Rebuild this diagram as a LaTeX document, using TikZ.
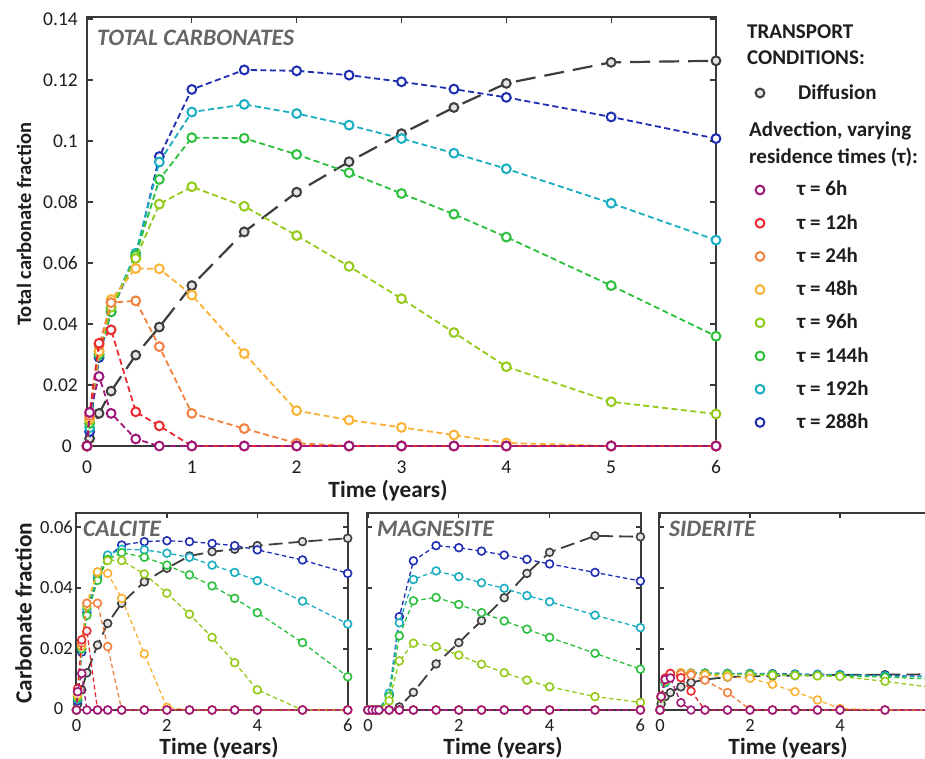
\documentclass[tikz,border=0pt]{standalone}
\usepackage{fontspec}
\setmainfont{Carlito}
\definecolor{cpur}{RGB}{158,24,122}
\definecolor{cred}{RGB}{234,42,46}
\definecolor{cora}{RGB}{242,128,62}
\definecolor{cyel}{RGB}{250,178,52}
\definecolor{cygr}{RGB}{148,202,24}
\definecolor{cgrn}{RGB}{44,192,62}
\definecolor{ccya}{RGB}{24,174,192}
\definecolor{cblu}{RGB}{30,46,176}
\definecolor{cgry}{RGB}{62,62,62}
\definecolor{gfill}{RGB}{228,228,228}
\definecolor{axc}{RGB}{56,56,56}
\definecolor{ttl}{RGB}{102,102,102}
\definecolor{txt}{RGB}{30,30,30}
\makeatletter
\def\buildpts#1#2{\def\zippts{}\edef\tmpT{#1,}\edef\tmpV{#2,}\zip@loop}
\def\zip@loop{\ifx\tmpT\@empty\else
  \expandafter\zip@splitT\tmpT\@nil
  \expandafter\zip@splitV\tmpV\@nil
  \edef\zippts{\zippts(\headT,\headV)}%
  \expandafter\zip@loop\fi}
\def\zip@splitT#1,#2\@nil{\def\headT{#1}\def\tmpT{#2}}
\def\zip@splitV#1,#2\@nil{\def\headV{#1}\def\tmpV{#2}}
\makeatother
\newcommand\plotser[3]{\buildpts{#2}{#3}\begingroup\edef\x{\endgroup\noexpand\draw[#1] plot coordinates {\zippts};}\x}
\def\TT{0,0.025,0.115,0.23,0.465,0.69,1,1.5,2,2.5,3,3.5,4,5,6}
\def\TM{0,0.09,0.17,0.24,0.465,0.69,1,1.5,2,2.5,3,3.5,4,5,6}
\def\ZZ{0,0,0,0,0,0,0,0,0,0,0,0,0,0,0}
\newcommand\tkfont{\fontsize{19.5}{20}\selectfont}
\newcommand\btkfont{\fontsize{18.5}{19}\selectfont}
\tikzset{
  ax/.style={draw=axc,line width=1.2pt},
  tk/.style={inner sep=0pt,text=txt,font=\tkfont},
  btk/.style={inner sep=0pt,text=txt,font=\btkfont},
  lab/.style={inner sep=0pt,text=txt,font=\fontsize{23.3}{24}\selectfont\bfseries},
  ttlst/.style={inner sep=0pt,text=ttl,font=\fontsize{23.6}{24}\selectfont\bfseries\itshape,anchor=base west},
  lg/.style={inner sep=0pt,text=txt,font=\fontsize{21}{22}\selectfont\bfseries,anchor=base west},
  ser/.style={dash pattern=on 6pt off 3.5pt,line width=1.8pt,mark=*,mark size=4.4pt,mark options={solid,fill=white,line width=2pt}},
  gser/.style={cgry,dash pattern=on 20pt off 9pt,line width=2.2pt,mark=*,mark size=4.4pt,mark options={solid,fill=gfill,line width=2pt}},
  sser/.style={dash pattern=on 4.5pt off 3pt,line width=1.3pt,mark=*,mark size=3.9pt,mark options={solid,fill=white,line width=1.6pt}},
  sgser/.style={cgry,dash pattern=on 14pt off 6pt,line width=1.8pt,mark=*,mark size=3.9pt,mark options={solid,fill=gfill,line width=1.6pt}},
}
\begin{document}
\begin{tikzpicture}[x=1pt,y=-1pt]
\useasboundingbox[fill=white] (0,0) rectangle (925,759);
%% ---------------- main axes
\draw[ax] (87,17) rectangle (716,446);
\foreach \i in {0,...,6}{
  \draw[ax] ({87+104.83*\i},446) -- ++(0,-6);
  \draw[ax] ({87+104.83*\i},17) -- ++(0,6);
  \node[tk,anchor=base] at ({87+104.83*\i},473) {\i};
}
\foreach \v/\l in {0.02/0.02,0.04/0.04,0.06/0.06,0.08/0.08,0.1/0.1,0.12/0.12,0.14/0.14}{
  \draw[ax] (87,{446-3050*\v}) -- ++(6,0);
  \draw[ax] (716,{446-3050*\v}) -- ++(-6,0);
  \node[tk,anchor=east] at (78,{446-3050*\v}) {\l};
}
\node[tk,anchor=east] at (72,446) {0};
\node[lab,anchor=base] at (388,497) {Time (years)};
\node[lab,anchor=base,rotate=90,font=\fontsize{20.5}{21}\selectfont\bfseries] at (31,224) {Total carbonate fraction};
\node[ttlst] at (97,45.7) {TOTAL CARBONATES};
\begin{scope}[shift={(87,446)},x=104.83pt,y=3050pt]
\plotser{gser}{\TT}{0,0.0025,0.0107,0.018,0.0298,0.039,0.0526,0.0702,0.0832,0.0932,0.1024,0.111,0.1189,0.1258,0.1263}
\plotser{ser,cblu}{\TT}{0,0.0047,0.029,0.044,0.062,0.0949,0.1169,0.1233,0.1230,0.1216,0.1194,0.117,0.1143,0.1079,0.1008}
\plotser{ser,ccya}{\TT}{0,0.006,0.030,0.045,0.0632,0.0931,0.1095,0.112,0.109,0.1052,0.1008,0.096,0.0909,0.0796,0.0675}
\plotser{ser,cgrn}{\TT}{0,0.0074,0.030,0.044,0.0625,0.0874,0.1011,0.1009,0.0956,0.0896,0.0828,0.076,0.0685,0.0526,0.036}
\plotser{ser,cygr}{\TT}{0,0.0085,0.031,0.0455,0.0615,0.0793,0.085,0.0786,0.069,0.0589,0.0483,0.0372,0.026,0.0145,0.0105}
\plotser{ser,cyel}{\TT}{0,0.009,0.031,0.048,0.0582,0.0581,0.0495,0.0303,0.0116,0.0085,0.0061,0.0036,0.001,0,0}
\plotser{ser,cora}{\TT}{0,0.010,0.033,0.047,0.0476,0.0326,0.0107,0.0057,0.0009,0,0,0,0,0,0}
\plotser{ser,cred}{\TT}{0,0.011,0.0337,0.0381,0.0112,0.0066,0,0,0,0,0,0,0,0,0}
\plotser{ser,cpur}{\TT}{0,0.011,0.0228,0.0107,0.0023,0,0,0,0,0,0,0,0,0,0}
\end{scope}
%% ---------------- legend
\node[lg] at (747,38.3) {TRANSPORT};
\node[lg] at (747,65) {CONDITIONS:};
\draw[cgry,fill=gfill,line width=2pt] (760,93) circle (4.4pt);
\node[lg] at (798,99.3) {Diffusion};
\node[lg] at (749,136.7) {Advection, varying};
\node[lg] at (749,163.3) {residence times (τ):};
\foreach \c/\l [count=\i from 0] in {cpur/6h,cred/12h,cora/24h,cyel/48h,cygr/96h,cgrn/144h,ccya/192h,cblu/288h}{
  \draw[\c,fill=white,line width=2pt] (760,{190+33.2*\i}) circle (4.4pt);
  \node[lg] at (797,{196+33.2*\i}) {τ = \l};
}
%% ---------------- calcite
\draw[ax] (76,513) rectangle (348,710);
\foreach \i in {0,2,4,6}{
  \draw[ax] ({76.5+45.2*\i},710) -- ++(0,-5);
  \draw[ax] ({76.5+45.2*\i},513) -- ++(0,5);
  \node[btk,anchor=base] at ({76.5+45.2*\i},731) {\i};
}
\foreach \v/\l in {0.02/0.02,0.04/0.04,0.06/0.06}{
  \draw[ax] (76,{710-3050*\v}) -- ++(5,0);
  \draw[ax] (348,{710-3050*\v}) -- ++(-5,0);
  \node[btk,anchor=east] at (73,{710-3050*\v}) {\l};
}
\node[btk,anchor=east] at (63.5,709) {0};
\node[lab,anchor=base,rotate=90] at (31.5,613) {Carbonate fraction};
\node[lab,anchor=base] at (219,754) {Time (years)};
\node[ttlst] at (83,536.7) {CALCITE};
\begin{scope}[shift={(76.5,710)},x=45.2pt,y=3050pt]
\plotser{sgser}{\TT}{0,0.002,0.0066,0.0122,0.0213,0.0284,0.035,0.042,0.0465,0.0505,0.0519,0.0527,0.0539,0.0552,0.0563}
\plotser{sser,cblu}{\TT}{0,0.003,0.019,0.032,0.043,0.050,0.0541,0.0552,0.0555,0.0552,0.0546,0.0539,0.0525,0.0492,0.0448}
\plotser{sser,ccya}{\TT}{0,0.0035,0.020,0.033,0.044,0.0508,0.0527,0.0525,0.0514,0.0501,0.0475,0.0451,0.0424,0.0357,0.0282}
\plotser{sser,cgrn}{\TT}{0,0.004,0.020,0.031,0.0425,0.0494,0.0516,0.0501,0.0475,0.0443,0.0407,0.0366,0.0319,0.0221,0.0109}
\plotser{sser,cygr}{\TT}{0,0.0045,0.021,0.034,0.045,0.049,0.049,0.0446,0.0383,0.0314,0.0238,0.0155,0.0066,0,0}
\plotser{sser,cyel}{\TT}{0,0.005,0.021,0.035,0.0453,0.0448,0.0366,0.0184,0.0009,0,0,0,0,0,0}
\plotser{sser,cora}{\TT}{0,0.006,0.022,0.035,0.035,0.0208,0,0,0,0,0,0,0,0,0}
\plotser{sser,cred}{\TT}{0,0.007,0.023,0.0259,0,0,0,0,0,0,0,0,0,0,0}
\plotser{sser,cpur}{\TT}{0,0.006,0.012,0,0,0,0,0,0,0,0,0,0,0,0}
\end{scope}
%% ---------------- magnesite
\draw[ax] (367,513) rectangle (641,710);
\foreach \i in {0,2,4,6}{
  \draw[ax] ({368+45.4*\i},710) -- ++(0,-5);
  \draw[ax] ({368+45.4*\i},513) -- ++(0,5);
  \node[btk,anchor=base] at ({368+45.4*\i},731) {\i};
}
\foreach \v in {0.02,0.04,0.06}{
  \draw[ax] (367,{710-3050*\v}) -- ++(5,0);
  \draw[ax] (641,{710-3050*\v}) -- ++(-5,0);
}
\node[lab,anchor=base] at (503,754) {Time (years)};
\node[ttlst] at (377,536.3) {MAGNESITE};
\begin{scope}[shift={(368,710)},x=45.4pt,y=3050pt]
\plotser{sgser}{\TM}{0,0,0,0,0,0.001,0.0058,0.0151,0.0221,0.0293,0.0368,0.0448,0.0517,0.0571,0.0568}
\plotser{sser,cblu}{\TM}{0,0,0,0,0.005,0.0306,0.0489,0.0539,0.0532,0.0521,0.0508,0.0494,0.0479,0.0451,0.0423}
\plotser{sser,ccya}{\TM}{0,0,0,0,0.0055,0.0286,0.0428,0.0456,0.0437,0.0417,0.0399,0.0375,0.0355,0.0311,0.027}
\plotser{sser,cgrn}{\TM}{0,0,0,0,0.0045,0.0243,0.0358,0.0369,0.0346,0.0319,0.0292,0.0265,0.0238,0.0186,0.0134}
\plotser{sser,cygr}{\TM}{0,0,0,0,0.003,0.0161,0.0219,0.0208,0.018,0.015,0.0122,0.0098,0.0076,0.0044,0.0025}
\plotser{sser,cyel}{\TM}{\ZZ}
\plotser{sser,cora}{\TM}{\ZZ}
\plotser{sser,cred}{\TM}{\ZZ}
\plotser{sser,cpur}{\TM}{\ZZ}
\end{scope}
%% ---------------- siderite
\begin{scope}
\clip (0,0) rectangle (925,759);
\draw[ax] (659,513) rectangle (930,710);
\foreach \i in {0,2,4}{
  \draw[ax] ({660+45*\i},710) -- ++(0,-5);
  \draw[ax] ({660+45*\i},513) -- ++(0,5);
  \node[btk,anchor=base] at ({660+45*\i},731) {\i};
}
\foreach \v in {0.02,0.04,0.06}{
  \draw[ax] (659,{710-3050*\v}) -- ++(5,0);
}
\node[lab,anchor=base] at (788,754) {Time (years)};
\node[ttlst] at (669,536.7) {SIDERITE};
\begin{scope}[shift={(660,710)},x=45pt,y=3050pt]
\plotser{sgser}{\TT}{0,0.002,0.0044,0.0057,0.0076,0.009,0.0100,0.0108,0.011,0.0112,0.0113,0.0114,0.0115,0.0116,0.0117}
\plotser{sser,cblu}{\TT}{0,0.004,0.009,0.0118,0.012,0.0121,0.0121,0.012,0.012,0.0119,0.0118,0.0117,0.0116,0.0113,0.011}
\plotser{sser,ccya}{\TT}{0,0.004,0.009,0.0118,0.0121,0.0121,0.012,0.012,0.0119,0.0118,0.0117,0.0116,0.0115,0.0112,0.0108}
\plotser{sser,cgrn}{\TT}{0,0.004,0.0095,0.0118,0.0122,0.012,0.012,0.0118,0.0117,0.0116,0.0114,0.0113,0.0112,0.0108,0.0102}
\plotser{sser,cygr}{\TT}{0,0.004,0.0095,0.0118,0.0121,0.012,0.0118,0.0116,0.0115,0.0114,0.0113,0.0112,0.011,0.0094,0.0075}
\plotser{sser,cyel}{\TT}{0,0.0045,0.010,0.0118,0.0122,0.012,0.0115,0.0109,0.0104,0.0084,0.006,0.0033,0.0005,0,0}
\plotser{sser,cora}{\TT}{0,0.0045,0.010,0.012,0.0118,0.0115,0.0098,0.0057,0.0002,0,0,0,0,0,0}
\plotser{sser,cred}{\TT}{0,0.0045,0.0105,0.012,0.0106,0.0062,0,0,0,0,0,0,0,0,0}
\plotser{sser,cpur}{\TT}{0,0.0044,0.0100,0.0105,0.0024,0,0,0,0,0,0,0,0,0,0}
\end{scope}
\end{scope}
\end{tikzpicture}
\end{document}
